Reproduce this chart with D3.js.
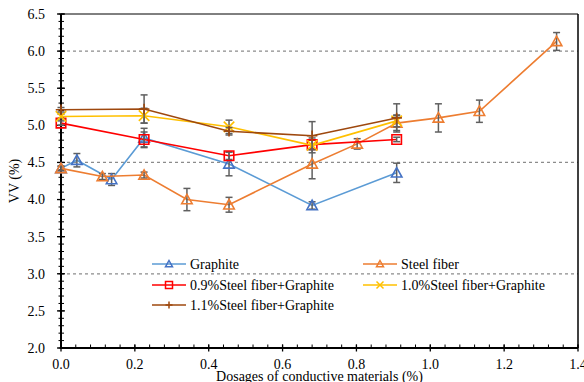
<!DOCTYPE html>
<html><head><meta charset="utf-8">
<script src="https://cdn.jsdelivr.net/npm/d3@7"></script>
<style>body{margin:0;background:#fff}svg{display:block}</style>
</head><body>
<svg id="c" width="584" height="382" font-family="'Liberation Serif', 'Times New Roman', 'DejaVu Serif', serif"></svg>
<script>
// ---- data ----
const graphiteX = [0, 0.043, 0.137, 0.225, 0.455, 0.68, 0.909];
const graphiteY = [4.42, 4.53, 4.27, 4.83, 4.48, 3.92, 4.36];
const graphiteErr = [0.03, 0.09, 0.08, 0.13, 0.16, 0.05, 0.13];

const steelX = [0, 0.112, 0.225, 0.341, 0.455, 0.68, 0.802, 0.909, 1.022, 1.133, 1.342];
const steelY = [4.42, 4.31, 4.33, 4.00, 3.93, 4.48, 4.75, 5.03, 5.10, 5.19, 6.13];
const steelErr = [0.03, 0.04, 0.04, 0.15, 0.10, 0.20, 0.07, 0.10, 0.19, 0.15, 0.12];

const hybridX = [0, 0.225, 0.455, 0.68, 0.909];
const sf09Y = [5.03, 4.81, 4.59, 4.74, 4.81];
const sf09Err = [0.03, 0.10, 0.05, 0.06, 0.03];
const sf10Y = [5.12, 5.13, 4.98, 4.73, 5.06];
const sf10Err = [0.03, 0.10, 0.09, 0.10, 0.08];
const sf11Y = [5.21, 5.22, 4.92, 4.86, 5.10];
const sf11Err = [0.03, 0.19, 0.05, 0.19, 0.19];

const seriesNames = ["Graphite", "Steel fiber", "0.9%Steel fiber+Graphite", "1.0%Steel fiber+Graphite", "1.1%Steel fiber+Graphite"];
const xTicks = [0, 0.2, 0.4, 0.6, 0.8, 1.0, 1.2, 1.4];
const yTicks = [2.0, 2.5, 3.0, 3.5, 4.0, 4.5, 5.0, 5.5, 6.0, 6.5];
const gridValues = [3.0, 4.5, 6.0];
const xTitle = "Dosages of conductive materials (%)";
const yTitle = "VV (%)";

// ---- build ----
const series = [
  {name: seriesNames[0], xs: graphiteX, ys: graphiteY, es: graphiteErr, line: "#5B9BD5", mark: "#4472C4", sym: "tri"},
  {name: seriesNames[1], xs: steelX, ys: steelY, es: steelErr, line: "#ED7D31", mark: "#ED7D31", sym: "tri"},
  {name: seriesNames[2], xs: hybridX, ys: sf09Y, es: sf09Err, line: "#FF0000", mark: "#FF0000", sym: "sq"},
  {name: seriesNames[3], xs: hybridX, ys: sf10Y, es: sf10Err, line: "#FFC000", mark: "#FFC000", sym: "x"},
  {name: seriesNames[4], xs: hybridX, ys: sf11Y, es: sf11Err, line: "#9E480E", mark: "#9E480E", sym: "plus"}
];

const L = 61, R = 578, T = 14, B = 348;
const x = d3.scaleLinear().domain([0, 1.4]).range([L, R]);
const y = d3.scaleLinear().domain([2, 6.5]).range([B, T]);
const svg = d3.select("#c");

function symPath(type, s) {
  const h = s / 2;
  if (type === "tri") return `M0,${-h}L${h},${h*0.8}L${-h},${h*0.8}Z`;
  if (type === "sq") return `M${-h},${-h}H${h}V${h}H${-h}Z`;
  if (type === "x") return `M${-h},${-h}L${h},${h}M${-h},${h}L${h},${-h}`;
  return `M${-h},0H${h}M0,${-h}V${h}`;
}

// gridlines
svg.append("g").selectAll("line").data(gridValues).join("line")
  .attr("x1", L).attr("x2", R).attr("y1", d => y(d)).attr("y2", d => y(d))
  .attr("stroke", "#8c8c8c").attr("stroke-width", 1.2).attr("stroke-dasharray", "3,3");

// frame top/right
svg.append("line").attr("x1", L).attr("x2", R).attr("y1", T).attr("y2", T).attr("stroke", "#000").attr("stroke-width", 1);
svg.append("line").attr("x1", R).attr("x2", R).attr("y1", T).attr("y2", B).attr("stroke", "#000").attr("stroke-width", 1.5);

// axes
const yMinor = d3.range(20, 66).map(v => v / 10);
const xMinor = d3.range(0, 36).map(v => +(v * 0.04).toFixed(2));
const gAx = svg.append("g");
gAx.selectAll(".ym").data(yMinor).join("line")
  .attr("x1", L - 2.5).attr("x2", L + 3).attr("y1", d => y(d)).attr("y2", d => y(d)).attr("stroke", "#000").attr("stroke-width", 1);
gAx.selectAll(".yM").data(yTicks).join("line")
  .attr("x1", L - 4).attr("x2", L + 4).attr("y1", d => y(d)).attr("y2", d => y(d)).attr("stroke", "#000").attr("stroke-width", 1.3);
gAx.selectAll(".xm").data(xMinor).join("line")
  .attr("y1", B).attr("y2", B - 3.5).attr("x1", d => x(d)).attr("x2", d => x(d)).attr("stroke", "#000").attr("stroke-width", 1);
gAx.selectAll(".xM").data(xTicks).join("line")
  .attr("y1", B + 3.5).attr("y2", B - 3.5).attr("x1", d => x(d)).attr("x2", d => x(d)).attr("stroke", "#000").attr("stroke-width", 1.3);
gAx.append("line").attr("x1", L).attr("x2", L).attr("y1", T).attr("y2", B + 1).attr("stroke", "#000").attr("stroke-width", 2);
gAx.append("line").attr("x1", L - 1).attr("x2", R).attr("y1", B).attr("y2", B).attr("stroke", "#000").attr("stroke-width", 2);

gAx.selectAll(".yl").data(yTicks).join("text")
  .attr("x", L - 16).attr("y", d => y(d)).attr("dy", "0.35em").attr("text-anchor", "end")
  .attr("font-size", 14).text(d => d.toFixed(1));
gAx.selectAll(".xl").data(xTicks).join("text")
  .attr("x", d => x(d)).attr("y", B + 21).attr("text-anchor", "middle")
  .attr("font-size", 14).text(d => d.toFixed(1));
svg.append("text").attr("x", (L + R) / 2).attr("y", 381).attr("text-anchor", "middle").attr("font-size", 14).text(xTitle);
svg.append("text").attr("transform", `translate(19,${(T + B) / 2}) rotate(-90)`).attr("text-anchor", "middle").attr("font-size", 14).text(yTitle);

// series
const line = d3.line().x(d => x(d[0])).y(d => y(d[1]));
series.forEach(s => {
  const pts = s.xs.map((v, i) => [v, s.ys[i], s.es[i]]);
  const g = svg.append("g");
  g.append("path").attr("d", line(pts)).attr("fill", "none").attr("stroke", s.line).attr("stroke-width", 1.6);
  const eb = g.append("g").attr("stroke", "#5f5f5f").attr("stroke-width", 1.5);
  pts.forEach(p => {
    const cx = x(p[0]), y1 = y(p[1] + p[2]), y2 = y(p[1] - p[2]);
    eb.append("line").attr("x1", cx).attr("x2", cx).attr("y1", y1).attr("y2", y2);
    eb.append("line").attr("x1", cx - 3.5).attr("x2", cx + 3.5).attr("y1", y1).attr("y2", y1);
    eb.append("line").attr("x1", cx - 3.5).attr("x2", cx + 3.5).attr("y1", y2).attr("y2", y2);
  });
  g.selectAll(".m").data(pts).join("path")
    .attr("transform", d => `translate(${x(d[0])},${y(d[1])})`)
    .attr("d", symPath(s.sym, s.sym === "sq" ? 9.5 : 10.5))
    .attr("fill", "none").attr("stroke", s.mark).attr("stroke-width", 1.6);
});

// legend
const legPos = [[152, 264], [363, 264], [152, 285], [363, 285], [152, 305]];
series.forEach((s, i) => {
  const [lx, ly] = legPos[i];
  const g = svg.append("g");
  g.append("line").attr("x1", lx).attr("x2", lx + 34).attr("y1", ly).attr("y2", ly).attr("stroke", s.line).attr("stroke-width", 1.6);
  g.append("path").attr("transform", `translate(${lx + 17},${ly})`).attr("d", symPath(s.sym, 7))
    .attr("fill", "none").attr("stroke", s.mark).attr("stroke-width", 1.5);
  g.append("text").attr("x", lx + 38).attr("y", ly).attr("dy", "0.35em").attr("font-size", 14).text(s.name);
});
</script>
</body></html>
